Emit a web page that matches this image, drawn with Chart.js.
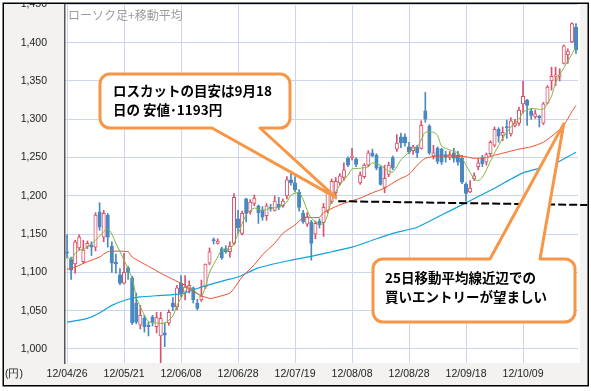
<!DOCTYPE html>
<html>
<head>
<meta charset="utf-8">
<script src="https://cdn.jsdelivr.net/npm/chart.js@4.4.1/dist/chart.umd.min.js"></script>
<style>
  html, body { margin: 0; padding: 0; background: #fff; }
</style>
</head>
<body>
<canvas id="chart" width="591" height="391"></canvas>
<script>
// trading days (categories)
const dates = [
  "12/04/26","12/04/27",
  "12/05/01","12/05/02","12/05/07","12/05/08","12/05/09","12/05/10","12/05/11","12/05/14","12/05/15","12/05/16","12/05/17","12/05/18","12/05/21","12/05/22","12/05/23","12/05/24","12/05/25","12/05/28","12/05/29","12/05/30","12/05/31",
  "12/06/01","12/06/04","12/06/05","12/06/06","12/06/07","12/06/08","12/06/11","12/06/12","12/06/13","12/06/14","12/06/15","12/06/18","12/06/19","12/06/20","12/06/21","12/06/22","12/06/25","12/06/26","12/06/27","12/06/28","12/06/29",
  "12/07/02","12/07/03","12/07/04","12/07/05","12/07/06","12/07/09","12/07/10","12/07/11","12/07/12","12/07/13","12/07/17","12/07/18","12/07/19","12/07/20","12/07/23","12/07/24","12/07/25","12/07/26","12/07/27","12/07/30","12/07/31",
  "12/08/01","12/08/02","12/08/03","12/08/06","12/08/07","12/08/08","12/08/09","12/08/10","12/08/13","12/08/14","12/08/15","12/08/16","12/08/17","12/08/20","12/08/21","12/08/22","12/08/23","12/08/24","12/08/27","12/08/28","12/08/29","12/08/30","12/08/31",
  "12/09/03","12/09/04","12/09/05","12/09/06","12/09/07","12/09/10","12/09/11","12/09/12","12/09/13","12/09/14","12/09/18","12/09/19","12/09/20","12/09/21","12/09/24","12/09/25","12/09/26","12/09/27","12/09/28",
  "12/10/01","12/10/02","12/10/03","12/10/04","12/10/05","12/10/09","12/10/10","12/10/11","12/10/12","12/10/15","12/10/16","12/10/17","12/10/18","12/10/19","12/10/22","12/10/23","12/10/24","12/10/25","12/10/26"
];

const xTickLabels = ["12/04/26","12/05/21","12/06/08","12/06/28","12/07/19","12/08/08","12/08/28","12/09/18","12/10/09"];
const yTicks = [1000, 1050, 1100, 1150, 1200, 1250, 1300, 1350, 1400, 1450];

// candles
const open = [
  1127,1117,1111,1132,1114,1134,1136,1133,1179,1146,1175,1134,1113,1097,1086,1106,1093,1060,1031,1040,
  1031,1042,1029,1017,1021,1034,1060,1055,1086,1074,1078,1080,1060,1064,1081,1112,1143,1138,1131,1131,
  1127,1138,1170,1151,1196,1179,1190,1187,1181,1174,1185,1181,1189,1187,1200,1221,1217,1205,1177,1163,
  1166,1150,1167,1165,1181,1192,1204,1217,1224,1249,1250,1248,1217,1225,1240,1256,1253,1238,1211,1228,
  1250,1261,1277,1277,1264,1259,1264,1262,1311,1291,1252,1262,1261,1254,1250,1256,1253,1249,1215,1205,
  1222,1238,1249,1244,1255,1266,1287,1279,1290,1281,1292,1295,1320,1325,1311,1303,1304,1295,1321,1350,
  1356,1356,1373,1384,1401,1420
];
const high = [
  1149,1120,1142,1149,1142,1141,1140,1178,1191,1181,1177,1140,1124,1105,1125,1108,1095,1073,1057,1044,
  1035,1044,1048,1048,1034,1051,1067,1083,1096,1096,1089,1081,1065,1090,1111,1132,1145,1144,1133,1135,
  1140,1203,1181,1180,1197,1195,1201,1188,1186,1190,1189,1200,1198,1196,1225,1230,1225,1208,1181,1178,
  1168,1167,1170,1190,1207,1222,1224,1229,1243,1251,1262,1250,1231,1242,1259,1261,1255,1239,1240,1244,
  1252,1280,1282,1281,1270,1266,1266,1298,1335,1293,1266,1264,1262,1258,1258,1262,1258,1253,1217,1220,
  1230,1248,1253,1256,1272,1290,1289,1290,1299,1302,1300,1316,1350,1326,1314,1312,1305,1322,1344,1368,
  1368,1366,1397,1392,1426,1425
];
const low = [
  1119,1091,1099,1129,1112,1131,1122,1128,1155,1140,1133,1100,1099,1084,1085,1091,1032,1033,1026,1022,
  1017,1030,1021,982,1003,1031,1050,1051,1068,1064,1073,1060,1051,1062,1079,1110,1137,1137,1117,1125,
  1120,1136,1151,1149,1166,1176,1187,1164,1168,1168,1180,1180,1182,1185,1196,1214,1205,1180,1164,1160,
  1116,1144,1158,1147,1178,1190,1196,1214,1220,1238,1247,1238,1215,1223,1238,1251,1234,1214,1204,1225,
  1234,1258,1263,1265,1255,1254,1250,1261,1296,1254,1248,1242,1241,1244,1247,1244,1240,1216,1193,1204,
  1220,1234,1238,1240,1252,1264,1270,1272,1275,1278,1290,1292,1308,1292,1300,1301,1290,1293,1320,1338,
  1344,1350,1372,1373,1400,1386
];
const close = [
  1125,1103,1140,1146,1129,1138,1133,1175,1159,1177,1146,1112,1111,1086,1100,1100,1034,1035,1044,1029,
  1029,1035,1041,1040,1018,1048,1055,1080,1073,1081,1083,1064,1053,1069,1111,1127,1141,1141,1119,1127,
  1134,1198,1158,1177,1177,1192,1197,1178,1172,1187,1183,1193,1185,1193,1221,1217,1208,1185,1166,1173,
  1138,1164,1162,1185,1204,1219,1219,1226,1234,1240,1252,1241,1227,1240,1256,1252,1236,1215,1223,1240,
  1236,1269,1269,1269,1257,1264,1256,1292,1300,1256,1256,1245,1244,1250,1254,1249,1244,1218,1203,1210,
  1226,1243,1242,1254,1270,1287,1278,1283,1289,1298,1295,1312,1330,1318,1305,1307,1302,1320,1342,1356,
  1358,1358,1396,1389,1425,1391
];

// moving averages: [day index, value]
const ma5 = [
  [0,1120],[1,1117],[2,1125],[3,1129],[5,1133],[7,1142],[9,1153],[10,1157],[11,1150],[12,1138],[14,1116],
  [16,1092],[17,1068],[18,1055],[20,1036],[22,1034],[24,1034],[26,1043],[27,1057],[29,1075],[30,1081],
  [32,1073],[33,1069],[34,1081],[35,1100],[37,1120],[38,1129],[40,1130],[41,1138],[42,1150],[44,1175],
  [46,1184],[48,1181],[50,1184],[52,1185],[54,1192],[55,1201],[57,1204],[58,1195],[59,1181],[60,1171],
  [62,1163],[63,1164],[64,1175],[65,1195],[67,1214],[69,1227],[70,1235],[72,1236],[74,1238],[75,1243],
  [77,1240],[79,1232],[80,1231],[81,1238],[82,1247],[84,1257],[85,1262],[86,1264],[87,1273],[88,1283],
  [90,1283],[91,1279],[92,1265],[94,1260],[96,1256],[97,1250],[98,1240],[100,1222],[101,1220],[102,1224],
  [104,1245],[105,1256],[107,1275],[109,1290],[111,1300],[112,1309],[114,1314],[116,1313],[117,1313],
  [119,1330],[120,1348],[122,1367],[124,1385],[125,1395]
];
const ma25 = [
  [0,1104],[2,1107],[5,1114],[8,1120],[10,1127],[15,1127],[16,1120],[20,1108],[23,1099],[26,1091],
  [29,1083],[32,1072],[35,1066],[37,1068],[40,1073],[41,1079],[43,1094],[46,1110],[48,1123],[51,1138],
  [53,1151],[56,1162],[58,1171],[62,1172],[63,1178],[66,1186],[69,1192],[72,1197],[75,1204],[78,1210],
  [81,1220],[84,1228],[86,1240],[88,1249],[91,1252],[95,1252],[98,1251],[100,1249],[103,1250],[105,1253],
  [108,1257],[111,1261],[114,1264],[117,1270],[120,1282],[122,1292],[124,1310],[125,1318]
];
const ma75 = [
  [0,1035],[5,1040],[8,1047],[11,1057],[15,1065],[18,1068],[23,1070],[28,1072],[32,1079],[35,1084],
  [39,1090],[42,1094],[47,1106],[55,1116],[60,1121],[65,1127],[70,1133],[75,1142],[80,1151],[86,1159],
  [92,1175],[98,1191],[105,1210],[112,1230],[119,1240],[125,1257]
];

// annotations
const stopLoss = { from: [66.6, 1193], to: [127.8, 1188] };
const note1 = { lines: ["ロスカットの目安は9月18", "日の 安値･1193円"], tip: [66, 1198] };
const note2 = { lines: ["25日移動平均線近辺での", "買いエントリーが望ましい"], tip: [122, 1294] };

const UP = "#d9506a";
const DOWN = "#4a88c2";
const ORANGE = "#f79646";
const isUp = open.map((o, i) => close[i] >= o);

function toPoints(pairs) {
  return pairs.map(p => ({ x: dates[p[0]], y: p[1] }));
}

function drawCallout(ctx, box, tail, tip) {
  const { x, y, w, h, r } = box;
  ctx.beginPath();
  ctx.moveTo(x + r, y);
  if (tail.side === "top") {
    ctx.lineTo(tail.a, y);
    ctx.lineTo(tip.x, tip.y);
    ctx.lineTo(tail.b, y);
  }
  ctx.lineTo(x + w - r, y);
  ctx.arcTo(x + w, y, x + w, y + r, r);
  ctx.lineTo(x + w, y + h - r);
  ctx.arcTo(x + w, y + h, x + w - r, y + h, r);
  if (tail.side === "bottom") {
    ctx.lineTo(tail.b, y + h);
    ctx.lineTo(tip.x, tip.y);
    ctx.lineTo(tail.a, y + h);
  }
  ctx.lineTo(x + r, y + h);
  ctx.arcTo(x, y + h, x, y + h - r, r);
  ctx.lineTo(x, y + r);
  ctx.arcTo(x, y, x + r, y, r);
  ctx.closePath();
  ctx.fillStyle = "#fff";
  ctx.fill();
  ctx.lineWidth = 3;
  ctx.lineJoin = "round";
  ctx.strokeStyle = ORANGE;
  ctx.stroke();
}

const decorations = {
  id: "decorations",
  beforeDraw(chart) {
    const { ctx, chartArea: ca } = chart;
    ctx.save();
    ctx.fillStyle = "#fff";
    ctx.fillRect(0, 0, chart.width, chart.height);
    ctx.fillStyle = "#f3f2f0";
    ctx.fillRect(4, 4, 584, 381);
    ctx.fillStyle = "#fff";
    ctx.fillRect(ca.left, ca.top, 580 - ca.left, ca.bottom - ca.top);
    ctx.restore();
  },
  afterDatasetsDraw(chart) {
    const { ctx, scales: { x, y } } = chart;
    ctx.save();
    // stop loss line
    ctx.beginPath();
    ctx.setLineDash([8, 3]);
    ctx.lineWidth = 2;
    ctx.strokeStyle = "#000";
    ctx.moveTo(x.getPixelForValue(stopLoss.from[0]), y.getPixelForValue(stopLoss.from[1]));
    ctx.lineTo(x.getPixelForValue(stopLoss.to[0]), y.getPixelForValue(stopLoss.to[1]));
    ctx.stroke();
    ctx.setLineDash([]);

    const tip1 = { x: x.getPixelForValue(note1.tip[0]), y: y.getPixelForValue(note1.tip[1]) };
    drawCallout(ctx, { x: 100, y: 74, w: 190, h: 54, r: 10 }, { side: "bottom", a: 212, b: 260 }, tip1);
    const tip2 = { x: x.getPixelForValue(note2.tip[0]), y: y.getPixelForValue(note2.tip[1]) };
    drawCallout(ctx, { x: 373, y: 259, w: 202, h: 63, r: 10 }, { side: "top", a: 490, b: 540 }, tip2);

    ctx.fillStyle = "#000";
    ctx.font = "bold 13.5px 'Noto Sans CJK JP'";
    ctx.textBaseline = "middle";
    ctx.fillText(note1.lines[0], 113, 91);
    ctx.fillText(note1.lines[1], 113, 110);
    ctx.fillText(note2.lines[0], 385, 278);
    ctx.fillText(note2.lines[1], 385, 297);
    ctx.restore();
  },
  afterDraw(chart) {
    const { ctx } = chart;
    ctx.save();
    ctx.fillStyle = "#9c9c9c";
    ctx.font = "12px 'Noto Sans CJK JP'";
    ctx.textBaseline = "middle";
    ctx.fillText("ローソク足+移動平均", 68, 15);
    ctx.fillStyle = "#222";
    ctx.font = "10.5px 'Liberation Sans', Arial";
    ctx.fillText("(円)", 5, 374);
    // frame
    ctx.fillStyle = "#fff";
    ctx.fillRect(0, 0, chart.width, 3);
    ctx.strokeStyle = "#000";
    ctx.lineWidth = 1.5;
    ctx.strokeRect(3.25, 3.25, 585, 382.5);
    ctx.restore();
  }
};

new Chart(document.getElementById("chart"), {
  data: {
    labels: dates,
    datasets: [
      { type: "line", label: "5日", data: toPoints(ma5), borderColor: "#7ab83e", borderWidth: 1,
        pointRadius: 0, tension: 0.25, order: 0 },
      { type: "line", label: "25日", data: toPoints(ma25), borderColor: "#f0502d", borderWidth: 1,
        pointRadius: 0, tension: 0.2, order: 0 },
      { type: "line", label: "75日", data: toPoints(ma75), borderColor: "#129fdf", borderWidth: 1.2,
        pointRadius: 0, tension: 0.2, order: 0 },
      { type: "bar", label: "body", data: open.map((o, i) => [o, close[i]]),
        backgroundColor: isUp.map(u => u ? "#fff" : DOWN),
        borderColor: isUp.map(u => u ? UP : DOWN),
        borderWidth: 1, borderSkipped: false, barThickness: 3.4, minBarLength: 1,
        grouped: false, order: 1 },
      { type: "bar", label: "wick", data: low.map((l, i) => [l, high[i]]),
        backgroundColor: isUp.map(u => u ? UP : DOWN),
        barThickness: 1, grouped: false, order: 2 }
    ]
  },
  options: {
    responsive: false,
    animation: false,
    layout: { padding: { left: 4, top: 4, right: 13, bottom: 0 } },
    plugins: { legend: { display: false }, tooltip: { enabled: false } },
    scales: {
      x: {
        type: "category",
        offset: true,
        grid: { offset: false, color: "#cbd6ec", drawTicks: false },
        border: { display: false },
        ticks: {
          autoSkip: false, maxRotation: 0, padding: 5, color: "#222",
          font: { family: "'Liberation Sans', Arial", size: 10.5 },
          callback(v, i) { return xTickLabels.includes(dates[i]) ? dates[i] : null; }
        },
        afterFit(s) { s.height = 28; s.paddingLeft = 0; s.paddingRight = 0; }
      },
      y: {
        type: "linear",
        min: 981.7,
        max: 1450.5,
        grid: { color: "#cbd6ec", drawTicks: false },
        border: { display: true, color: "#555", width: 1.5 },
        ticks: {
          padding: 18, color: "#222",
          font: { family: "'Liberation Sans', Arial", size: 10.5 },
          callback: v => v.toLocaleString("en-US")
        },
        afterBuildTicks(s) { s.ticks = yTicks.map(v => ({ value: v })); },
        afterFit(s) { s.width = 61; s.paddingTop = 0; s.paddingBottom = 0; }
      }
    }
  },
  plugins: [decorations]
});
</script>
</body>
</html>
